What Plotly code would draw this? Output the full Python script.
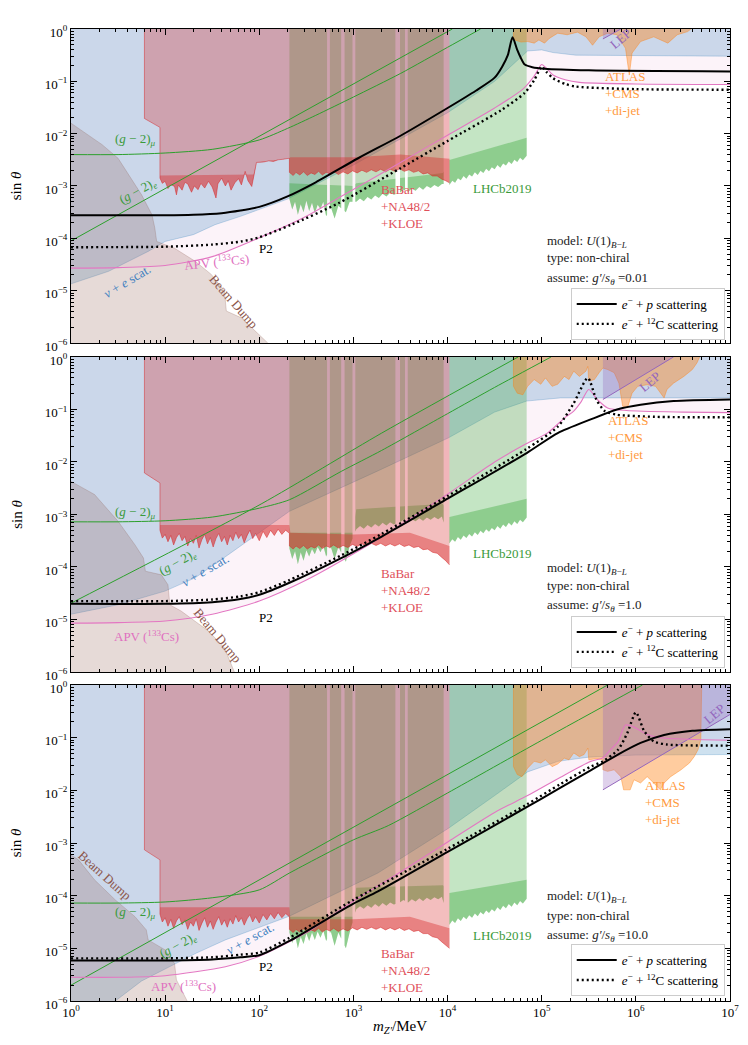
import numpy as np
import plotly.graph_objects as go

# ---------------- data --------------------------------------
# all values are log10(m_Z'/MeV) and log10(sin theta)
coupling_labels = ["0.01", "1.0", "10.0"]

# nu + e scattering bound (lower edge of excluded region)
nue_m_1 = [0, 0.4, 0.82, 1.0, 1.3, 1.53, 1.8, 2.0, 2.3, 3.0, 3.5, 4.0, 4.5, 4.85, 5.0, 5.12, 5.36, 7.0]
nue_s_1 = [-4.87, -4.63, -4.25, -4.06, -3.93, -3.74, -3.58, -3.45, -3.25, -2.6, -2.1, -1.6, -1.0, -0.42, -0.40, -0.45, -0.50, -0.52]
nue_m_2 = [0, 0.5, 0.998, 1.315, 1.668, 2.02, 2.32, 3.26, 4.01, 4.5, 4.84, 5.2, 7.0]
nue_s_2 = [-4.90, -4.72, -4.46, -4.21, -3.77, -3.32, -2.94, -2.17, -1.54, -1.05, -0.84, -0.78, -0.78]
nue_m_3 = [0, 0.47, 0.75, 1.05, 1.32, 1.64, 2.02, 2.32, 3.26, 4.01, 4.5, 4.85, 5.17, 5.5, 6.0, 7.0]
nue_s_3 = [-6.3, -6.0, -5.62, -5.35, -5.10, -4.84, -4.58, -4.39, -3.57, -2.72, -2.10, -1.65, -1.45, -1.37, -1.33, -1.32]

# APV (133Cs) bound
apv_m_1 = [0, 0.5, 1.0, 1.5, 2.0, 2.5, 2.84, 3.5, 4.0, 4.5, 4.8, 4.92, 5.0, 5.05, 5.12, 5.25, 5.4, 6.0, 7.0]
apv_s_1 = [-4.57, -4.56, -4.52, -4.35, -3.99, -3.58, -3.23, -2.55, -2.03, -1.51, -1.15, -0.9, -0.68, -0.75, -0.88, -0.97, -1.02, -1.05, -1.06]
apv_m_2 = [0, 0.5, 1.0, 1.5, 2.0, 2.5, 3.0, 3.5, 4.01, 4.5, 4.84, 5.06, 5.25, 5.34, 5.42, 5.50, 5.59, 5.70, 5.9, 6.5, 7.0]
apv_s_2 = [-5.07, -5.06, -5.03, -4.90, -4.65, -4.25, -3.75, -3.20, -2.60, -2.0, -1.65, -1.45, -1.15, -1.03, -0.85, -0.62, -0.81, -0.97, -1.02, -1.05, -1.06]
apv_m_3 = [0, 0.5, 1.0, 1.64, 2.0, 2.52, 3.0, 3.5, 4.01, 4.5, 4.85, 5.2, 5.52, 5.65, 5.73, 5.81, 5.89, 5.98, 6.12, 6.26, 7.0]
apv_s_3 = [-5.55, -5.55, -5.52, -5.35, -5.15, -4.68, -4.1, -3.55, -2.97, -2.42, -2.1, -1.75, -1.45, -1.38, -1.23, -1.08, -0.76, -0.80, -0.94, -1.0, -1.05]

# beam dump (upper edge of excluded region)
bd_m_1 = [0, 0.15, 0.33, 0.5, 0.64, 0.75, 0.86, 0.89, 0.91, 1.10, 1.32, 1.49, 1.63, 1.65, 1.81, 2.09]
bd_s_1 = [-1.80, -1.99, -2.21, -2.47, -2.85, -3.17, -3.55, -3.80, -4.06, -4.19, -4.44, -4.69, -5.01, -5.39, -5.52, -6.0]
bd_m_2 = [0, 0.25, 0.50, 0.68, 0.77, 0.79, 0.96, 1.03, 1.05, 1.17, 1.46, 1.63, 1.74]
bd_s_2 = [-2.37, -2.62, -3.13, -3.58, -3.83, -4.08, -4.15, -4.34, -4.72, -4.84, -5.22, -5.54, -6.02]
bd_m_3 = [0, 0.08, 0.25, 0.47, 0.68, 0.80, 0.82, 1.0, 1.10, 1.12, 1.24]
bd_s_3 = [-3.23, -3.32, -3.70, -4.08, -4.40, -4.65, -4.84, -5.03, -5.29, -5.60, -6.02]

# BaBar + NA48/2 + KLOE: left step, lower edge below 210 MeV (lo) and above (hi)
red_step_m = [0.78, 0.945]
red_step_s_1 = [-1.71, -1.88]
red_step_s_2 = [-2.21, -2.40]
red_step_s_3 = [-3.13, -3.32]
red_lo_m_1 = [0.945, 0.97, 1.0, 1.03, 1.06, 1.10, 1.12, 1.14, 1.18, 1.21, 1.24, 1.28, 1.31, 1.35, 1.38, 1.42, 1.46, 1.50, 1.54, 1.56,
              1.60, 1.64, 1.67, 1.70, 1.74, 1.78, 1.81, 1.85, 1.88, 1.92, 1.95, 1.97, 2.05, 2.1, 2.15, 2.2, 2.25, 2.32]
red_lo_s_1 = [-2.85, -2.95, -2.91, -3.05, -2.97, -3.01, -3.17, -2.98, -3.08, -2.93, -2.96, -3.12, -3.0, -3.07, -2.95, -3.04, -2.91, -3.02, -3.23, -2.96,
              -2.85, -3.0, -2.9, -3.08, -2.94, -2.86, -2.98, -2.72, -2.9, -3.01, -2.75, -2.55, -2.54, -2.52, -2.53, -2.50, -2.49, -2.47]
red_lo_m = [0.945, 0.97, 1.0, 1.03, 1.06, 1.09, 1.12, 1.15, 1.18, 1.21, 1.24, 1.27, 1.30, 1.33, 1.36, 1.39, 1.42, 1.45, 1.48, 1.51,
            1.54, 1.57, 1.60, 1.63, 1.66, 1.69, 1.72, 1.75, 1.78, 1.81, 1.84, 1.87, 1.90, 1.93, 1.96, 2.00, 2.04, 2.08, 2.12, 2.16,
            2.20, 2.24, 2.28, 2.32]
red_lo_s_2 = [-3.30, -3.45, -3.38, -3.52, -3.40, -3.58, -3.44, -3.36, -3.50, -3.42, -3.60, -3.46, -3.55, -3.40, -3.64, -3.48, -3.38, -3.56, -3.44, -3.62,
              -3.46, -3.36, -3.52, -3.42, -3.58, -3.40, -3.50, -3.34, -3.46, -3.38, -3.54, -3.40, -3.30, -3.46, -3.36, -3.50, -3.32, -3.44, -3.30, -3.40,
              -3.28, -3.38, -3.30, -3.36]
red_lo_s_3 = [-4.35, -4.50, -4.42, -4.58, -4.45, -4.62, -4.48, -4.40, -4.55, -4.46, -4.64, -4.50, -4.58, -4.44, -4.66, -4.52, -4.42, -4.60, -4.48, -4.64,
              -4.50, -4.40, -4.56, -4.46, -4.60, -4.44, -4.54, -4.38, -4.50, -4.42, -4.56, -4.44, -4.36, -4.50, -4.40, -4.52, -4.36, -4.46, -4.34, -4.44,
              -4.32, -4.42, -4.34, -4.40]
red_hi_m = [2.32, 2.36, 2.39, 2.43, 2.47, 2.51, 2.55, 2.59, 2.63, 2.67, 2.71, 2.75, 2.79, 2.84, 2.89, 2.94, 2.99, 3.04, 3.09, 3.14,
            3.19, 3.24, 3.29, 3.34, 3.39, 3.44, 3.49, 3.54, 3.59, 3.64, 3.69, 3.74, 3.79, 3.84, 3.89, 3.94, 3.98, 4.02]
red_hi_s_1 = [-2.74, -2.80, -2.74, -2.79, -2.73, -2.80, -2.75, -2.78, -2.72, -2.79, -2.74, -2.77, -2.72, -2.78, -2.73, -2.77, -2.71, -2.75, -2.70, -2.74,
              -2.69, -2.73, -2.68, -2.73, -2.68, -2.72, -2.67, -2.72, -2.69, -2.74, -2.71, -2.77, -2.75, -2.81, -2.81, -2.87, -2.90, -2.94]
red_hi_s_2 = [-3.60, -3.66, -3.60, -3.65, -3.59, -3.66, -3.61, -3.64, -3.58, -3.65, -3.60, -3.63, -3.58, -3.64, -3.59, -3.63, -3.57, -3.61, -3.56, -3.60,
              -3.55, -3.59, -3.55, -3.60, -3.56, -3.60, -3.56, -3.61, -3.58, -3.63, -3.61, -3.67, -3.66, -3.72, -3.74, -3.82, -3.88, -3.96]
red_hi_s_3 = [-4.64, -4.70, -4.64, -4.69, -4.63, -4.70, -4.65, -4.68, -4.62, -4.69, -4.64, -4.67, -4.62, -4.68, -4.63, -4.67, -4.61, -4.65, -4.60, -4.64,
              -4.60, -4.64, -4.60, -4.65, -4.61, -4.65, -4.61, -4.66, -4.63, -4.68, -4.66, -4.72, -4.72, -4.78, -4.80, -4.88, -4.94, -5.00]
# upper edge of the dense (fluctuating) red band
redband_m_1 = [0.945, 1.94, 1.97, 2.32, 2.33, 3.0, 3.5, 4.02]
redband_s_1 = [-2.80, -2.78, -2.55, -2.47, -2.45, -2.45, -2.40, -2.48]
redband_m_23 = [0.945, 2.32, 2.33, 3.0, 3.6, 4.02]
redband_s_2 = [-3.20, -3.20, -3.35, -3.38, -3.35, -3.60]
redband_s_3 = [-4.22, -4.22, -4.45, -4.45, -4.40, -4.62]

# LHCb2019 lower edge, and its resonance gaps
lhcb_range = [2.32, 4.84]
lhcb_gaps = [[2.72, 2.75], [2.87, 2.906], [2.99, 3.02], [3.446, 3.495], [3.548, 3.577], [3.958, 4.019]]
lhcb_m = [2.32, 2.35, 2.38, 2.41, 2.44, 2.47, 2.50, 2.53, 2.56, 2.59, 2.62, 2.65, 2.68, 2.71, 2.76, 2.80, 2.84, 2.92, 2.96,
          3.03, 3.07, 3.11, 3.15, 3.19, 3.23, 3.27, 3.31, 3.35, 3.39, 3.43, 3.50, 3.53, 3.58, 3.62, 3.66, 3.70, 3.74, 3.78, 3.82,
          3.86, 3.90, 3.94, 4.02, 4.05, 4.08, 4.11, 4.14, 4.17, 4.20, 4.23, 4.26, 4.29, 4.32, 4.35, 4.38, 4.41, 4.44, 4.47, 4.50,
          4.53, 4.56, 4.59, 4.62, 4.65, 4.68, 4.71, 4.74, 4.77, 4.80, 4.84]
lhcb_s_1 = [-3.25, -3.45, -3.30, -3.55, -3.35, -3.50, -3.28, -3.48, -3.32, -3.52, -3.36, -3.44, -3.30, -3.58, -3.40, -3.62, -3.38, -3.50, -3.30,
            -3.30, -3.24, -3.29, -3.21, -3.26, -3.18, -3.23, -3.15, -3.20, -3.13, -3.17, -3.12, -3.07, -3.12, -3.05, -3.09, -3.02, -3.07, -3.00, -3.04,
            -2.98, -3.02, -2.96, -2.98, -2.90, -2.94, -2.85, -2.89, -2.81, -2.86, -2.78, -2.82, -2.74, -2.79, -2.71, -2.75, -2.67, -2.72, -2.64, -2.68,
            -2.60, -2.65, -2.57, -2.61, -2.53, -2.58, -2.50, -2.54, -2.46, -2.51, -2.42]
lhcb_s_2 = [-3.65, -3.85, -3.70, -3.95, -3.72, -3.88, -3.68, -3.80, -3.66, -3.76, -3.62, -3.72, -3.60, -3.80, -3.62, -3.85, -3.62, -3.90, -3.60,
            -3.28, -3.22, -3.27, -3.20, -3.25, -3.18, -3.23, -3.16, -3.21, -3.15, -3.19, -3.14, -3.10, -3.15, -3.09, -3.13, -3.07, -3.12, -3.06, -3.10,
            -3.05, -3.09, -3.04, -3.55, -3.47, -3.52, -3.43, -3.48, -3.40, -3.45, -3.37, -3.42, -3.34, -3.39, -3.31, -3.36, -3.28, -3.33, -3.26, -3.30,
            -3.22, -3.27, -3.19, -3.24, -3.16, -3.21, -3.13, -3.18, -3.10, -3.15, -3.06]
lhcb_s_3 = [-4.70, -4.90, -4.75, -5.00, -4.78, -4.92, -4.72, -4.86, -4.70, -4.84, -4.68, -4.80, -4.66, -4.86, -4.68, -4.95, -4.70, -5.00, -4.70,
            -4.26, -4.20, -4.25, -4.18, -4.23, -4.16, -4.21, -4.14, -4.19, -4.13, -4.17, -4.12, -4.08, -4.13, -4.07, -4.11, -4.05, -4.10, -4.04, -4.08,
            -4.03, -4.07, -4.02, -4.55, -4.47, -4.52, -4.43, -4.48, -4.40, -4.45, -4.37, -4.42, -4.34, -4.39, -4.31, -4.36, -4.28, -4.33, -4.26, -4.30,
            -4.22, -4.27, -4.19, -4.24, -4.16, -4.21, -4.13, -4.18, -4.10, -4.15, -4.06]
lhcbband_m = [2.32, 3.0, 3.03, 3.95, 4.02, 4.84]
lhcbband_s_1 = [-2.95, -3.0, -2.95, -2.75, -2.50, -2.08]
lhcbband_s_2 = [-3.35, -3.35, -2.90, -2.80, -3.05, -2.70]
lhcbband_s_3 = [-4.40, -4.40, -3.85, -3.80, -3.95, -3.70]

# ATLAS + CMS + di-jet lower edge
atl_m_1 = [4.70, 4.70, 4.78, 4.85, 4.92, 4.97, 5.03, 5.08, 5.17, 5.27, 5.38, 5.47, 5.54, 5.61, 5.70, 5.80, 5.89, 5.93, 5.96, 6.05, 6.19, 6.34, 6.44, 6.55, 6.62]
atl_s_1 = [0.05, -0.20, -0.25, -0.24, -0.27, -0.21, -0.27, -0.18, -0.08, -0.11, -0.06, -0.15, -0.31, -0.15, -0.08, -0.11, -0.37, -0.88, -0.46, -0.24, -0.15, -0.27, -0.11, -0.05, 0.05]
atl_m_2 = [4.70, 4.70, 4.74, 4.80, 4.85, 4.92, 4.99, 5.04, 5.11, 5.17, 5.24, 5.29, 5.34, 5.40, 5.47, 5.49, 5.50, 5.56, 5.61, 5.65,
           5.70, 5.77, 5.82, 5.86, 5.91, 5.96, 6.02, 6.12, 6.21, 6.26, 6.30, 6.33, 6.40, 6.51, 6.60, 6.65, 6.69]
atl_s_2 = [0.05, -0.56, -0.69, -0.72, -0.56, -0.43, -0.52, -0.40, -0.56, -0.52, -0.37, -0.43, -0.27, -0.37, -0.27, -0.18, -0.46, -0.43, -0.30, -0.21,
           -0.24, -0.30, -0.50, -0.94, -0.97, -0.69, -0.56, -0.53, -0.56, -0.69, -0.78, -0.62, -0.50, -0.37, -0.24, -0.11, 0.05]
atl_m_3 = [4.70, 4.70, 4.74, 4.79, 4.85, 4.92, 4.99, 5.04, 5.11, 5.17, 5.24, 5.29, 5.34, 5.40, 5.45, 5.49, 5.50, 5.58, 5.65, 5.65,
           5.70, 5.77, 5.84, 5.87, 5.94, 5.98, 6.05, 6.12, 6.19, 6.26, 6.30, 6.37, 6.48, 6.57, 6.62, 6.66, 6.69, 6.70]
atl_s_3 = [0.05, -1.55, -1.70, -1.74, -1.58, -1.45, -1.48, -1.42, -1.55, -1.50, -1.39, -1.42, -1.29, -1.36, -1.32, -1.20, -1.42, -1.40, -1.42, -1.61,
           -1.64, -1.61, -1.74, -1.99, -1.99, -1.80, -1.86, -1.74, -1.86, -1.99, -1.86, -1.74, -1.61, -1.48, -1.36, -1.23, -1.04, 0.05]

# LEP bound (straight edge)
lep_m_1 = [5.65, 5.84]
lep_s_1 = [-0.19, 0.0]
lep_m_2 = [5.65, 6.40]
lep_s_2 = [-0.81, 0.0]
lep_m_3 = [5.65, 7.0]
lep_s_3 = [-1.99, -0.56]

# (g-2)_mu and (g-2)_e
g2mu_m_1 = [0, 0.5, 1.0, 1.5, 2.0, 2.3, 2.6, 3.0, 3.5, 4.0, 4.35]
g2mu_s_1 = [-2.40, -2.40, -2.37, -2.30, -2.12, -1.90, -1.65, -1.30, -0.85, -0.35, 0.0]
g2mu_m_2 = [0, 0.5, 1.0, 1.5, 2.0, 2.32, 2.87, 3.3, 4.0, 4.5, 5.1]
g2mu_s_2 = [-3.14, -3.14, -3.12, -3.05, -2.88, -2.72, -2.18, -1.78, -1.08, -0.58, 0.0]
g2mu_m_3 = [0, 0.5, 1.0, 1.5, 2.0, 2.32, 3.0, 3.37, 4.0, 5.0, 6.07]
g2mu_s_3 = [-4.14, -4.14, -4.12, -4.04, -3.89, -3.57, -2.94, -2.67, -2.05, -1.05, 0.0]
g2e_m_1 = [0, 4.05]
g2e_s_1 = [-4.05, 0.0]
g2e_m_2 = [0, 2.02, 3.3, 4.75]
g2e_s_2 = [-4.69, -2.80, -1.45, 0.0]
g2e_m_3 = [0, 5.70]
g2e_s_3 = [-5.70, 0.0]

# P2 sensitivity: e- + p (solid) and e- + 12C (dotted)
ep_m_1 = [0, 1.0, 1.3, 1.6, 1.8, 2.0, 2.3, 2.6, 3.05, 3.5, 4.0, 4.3, 4.5, 4.58, 4.64, 4.69, 4.74, 4.78, 4.82, 4.9, 5.03, 5.5, 7.0]
ep_s_1 = [-3.56, -3.56, -3.55, -3.52, -3.47, -3.40, -3.20, -2.93, -2.47, -2.04, -1.51, -1.18, -0.93, -0.72, -0.50, -0.16, -0.40, -0.56, -0.68, -0.73, -0.76, -0.79, -0.81]
ep_m_2 = [0, 1.0, 1.5, 1.8, 2.0, 2.32, 2.87, 3.3, 4.01, 4.84, 5.17, 5.52, 5.80, 6.05, 6.40, 7.0]
ep_s_2 = [-4.70, -4.70, -4.67, -4.61, -4.53, -4.30, -3.83, -3.42, -2.69, -1.83, -1.45, -1.19, -1.0, -0.91, -0.84, -0.81]
ep_m_3 = [0, 1.0, 1.5, 1.8, 2.0, 2.32, 3.0, 3.26, 4.01, 4.84, 5.2, 5.52, 5.8, 6.05, 6.3, 6.6, 7.0]
ep_s_3 = [-5.23, -5.23, -5.21, -5.17, -5.13, -4.86, -4.15, -3.92, -3.16, -2.32, -1.95, -1.62, -1.33, -1.10, -0.95, -0.87, -0.84]
ec_m_1 = [0, 1.0, 1.5, 1.81, 2.0, 2.34, 2.84, 3.5, 4.0, 4.57, 4.82, 4.92, 5.0, 5.05, 5.12, 5.25, 5.36, 6.0, 7.0]
ec_s_1 = [-4.17, -4.16, -4.12, -4.06, -3.98, -3.74, -3.33, -2.66, -2.14, -1.55, -1.22, -0.98, -0.72, -0.82, -0.94, -1.05, -1.10, -1.15, -1.16]
ec_m_2 = [0, 1.0, 1.5, 1.8, 2.0, 2.32, 2.87, 3.3, 4.01, 4.84, 5.17, 5.34, 5.49, 5.58, 5.67, 5.80, 6.2, 7.0]
ec_s_2 = [-4.65, -4.65, -4.62, -4.56, -4.48, -4.25, -3.78, -3.37, -2.64, -1.75, -1.33, -0.88, -0.40, -0.81, -1.03, -1.10, -1.14, -1.15]
ec_m_3 = [0, 1.0, 1.5, 1.8, 2.0, 2.32, 3.0, 4.01, 4.84, 5.2, 5.52, 5.65, 5.81, 5.91, 6.0, 6.09, 6.19, 6.33, 7.0]
ec_s_3 = [-5.19, -5.19, -5.17, -5.12, -5.08, -4.80, -4.08, -3.10, -2.27, -1.88, -1.55, -1.45, -1.23, -0.91, -0.52, -0.88, -1.07, -1.13, -1.15]

# ---------------- styles -----------------
FONT = "Liberation Serif"
C_BLUE = "rgba(31,119,180,0.22)"
C_PINK = "rgba(227,119,194,0.09)"
C_BROWN = "rgba(140,86,75,0.22)"
C_GREEN = "rgba(44,160,44,0.28)"
C_RED = "rgba(214,39,40,0.30)"
C_ORANGE = "rgba(255,127,14,0.40)"
C_PURPLE = "rgba(148,103,189,0.30)"
C_REDBAND = "rgba(214,39,40,0.40)"
C_GREENBAND = "rgba(44,160,44,0.35)"
TOP = 0.03
BOT = -6.03


def P(v):
    return 10 ** np.asarray(v, dtype=float)


fig = go.Figure()


def poly(xa, ya, fill, k, line=None):
    fig.add_trace(go.Scatter(x=P(xa), y=P(ya), mode="lines", fill="toself", fillcolor=fill,
                             line=dict(width=0.8 if line else 0, color=line or "rgba(0,0,0,0)"),
                             hoverinfo="skip", showlegend=False, xaxis="x%d" % k, yaxis="y%d" % k))


def curve(xa, ya, color, width, k, dash=None, name=None, legend=None, smooth=True):
    ln = dict(color=color, width=width, dash=dash)
    if smooth:
        ln.update(shape="spline", smoothing=0.7)
    fig.add_trace(go.Scatter(x=P(xa), y=P(ya), mode="lines", line=ln,
                             hoverinfo="skip", name=name, showlegend=name is not None,
                             legend=legend, xaxis="x%d" % k, yaxis="y%d" % k))


def segments(lo, hi, gaps):
    out, start = [], lo
    for a, b in gaps:
        out.append((start, a))
        start = b
    out.append((start, hi))
    return out


panels = [
    dict(nue=(nue_m_1, nue_s_1), apv=(apv_m_1, apv_s_1), bd=(bd_m_1, bd_s_1), step=red_step_s_1,
         red=(red_lo_m_1 + red_hi_m, red_lo_s_1 + red_hi_s_1), redband=(redband_m_1, redband_s_1),
         lhcb=lhcb_s_1, lhcbband=lhcbband_s_1,
         atl=(atl_m_1, atl_s_1), lep=(lep_m_1, lep_s_1), g2mu=(g2mu_m_1, g2mu_s_1), g2e=(g2e_m_1, g2e_s_1),
         ep=(ep_m_1, ep_s_1), ec=(ec_m_1, ec_s_1)),
    dict(nue=(nue_m_2, nue_s_2), apv=(apv_m_2, apv_s_2), bd=(bd_m_2, bd_s_2), step=red_step_s_2,
         red=(red_lo_m + red_hi_m, red_lo_s_2 + red_hi_s_2), redband=(redband_m_23, redband_s_2),
         lhcb=lhcb_s_2, lhcbband=lhcbband_s_2,
         atl=(atl_m_2, atl_s_2), lep=(lep_m_2, lep_s_2), g2mu=(g2mu_m_2, g2mu_s_2), g2e=(g2e_m_2, g2e_s_2),
         ep=(ep_m_2, ep_s_2), ec=(ec_m_2, ec_s_2)),
    dict(nue=(nue_m_3, nue_s_3), apv=(apv_m_3, apv_s_3), bd=(bd_m_3, bd_s_3), step=red_step_s_3,
         red=(red_lo_m + red_hi_m, red_lo_s_3 + red_hi_s_3), redband=(redband_m_23, redband_s_3),
         lhcb=lhcb_s_3, lhcbband=lhcbband_s_3,
         atl=(atl_m_3, atl_s_3), lep=(lep_m_3, lep_s_3), g2mu=(g2mu_m_3, g2mu_s_3), g2e=(g2e_m_3, g2e_s_3),
         ep=(ep_m_3, ep_s_3), ec=(ec_m_3, ec_s_3)),
]

legend_names = ["legend", "legend2", "legend3"]

for i, d in enumerate(panels):
    k = i + 1
    # APV region (under everything)
    m, s = d["apv"]
    poly(list(m) + [7.05, -0.05], list(s) + [TOP, TOP], C_PINK, k)
    # nu + e scattering
    m, s = d["nue"]
    poly(list(m) + [7.05, -0.05, -0.05], list(s) + [TOP, TOP, s[0]], C_BLUE, k, "rgba(31,119,180,0.30)")
    # beam dump
    m, s = d["bd"]
    poly(list(m) + [m[-1], -0.05, -0.05], list(s) + [BOT, BOT, s[0]], C_BROWN, k, "rgba(140,86,75,0.30)")
    # LHCb (segments between resonance gaps)
    lm = np.array(lhcb_m)
    ls = np.array(d["lhcb"])
    bm = np.array(lhcbband_m)
    bs = np.array(d["lhcbband"])
    for a, b in segments(lhcb_range[0], lhcb_range[1], lhcb_gaps):
        inside = (lm > a) & (lm < b)
        xm = [a] + list(lm[inside]) + [b]
        xs = [float(np.interp(a, lm, ls))] + list(ls[inside]) + [float(np.interp(b, lm, ls))]
        poly(xm + [b, a], xs + [TOP, TOP], C_GREEN, k)
        tin = (bm > a) & (bm < b)
        tm = [a] + list(bm[tin]) + [b]
        ts = [float(np.interp(x, bm, bs)) for x in tm]
        poly(xm + tm[::-1], xs + ts[::-1], C_GREENBAND, k)
    # BaBar + NA48/2 + KLOE
    m, s = d["red"]
    rx = [red_step_m[0], red_step_m[0], red_step_m[1]] + list(m) + [m[-1]]
    ry = [TOP, d["step"][0], d["step"][1]] + list(s) + [TOP]
    poly(rx, ry, C_RED, k)
    bm2, bs2 = d["redband"]
    poly(list(m) + list(bm2)[::-1], list(s) + list(bs2)[::-1], C_REDBAND, k)
    curve(rx[:-1], ry[:-1], "rgba(214,39,40,0.7)", 0.7, k, smooth=False)
    # ATLAS + CMS + di-jet
    m, s = d["atl"]
    poly(m, s, C_ORANGE, k, "rgba(255,127,14,0.5)")
    # LEP
    m, s = d["lep"]
    poly([m[0], m[0], m[1], 7.05, 7.05], [TOP, s[0], s[1], s[1] + 0.05, TOP], C_PURPLE, k)
    curve(m, s, "#9467bd", 1.0, k, smooth=False)
    # (g-2) lines, APV line
    m, s = d["g2mu"]
    curve(m, s, "#2ca02c", 1.0, k)
    m, s = d["g2e"]
    curve(m, s, "#2ca02c", 1.0, k)
    m, s = d["apv"]
    curve(m, s, "#e377c2", 1.1, k)
    # P2 sensitivity
    m, s = d["ep"]
    curve(m, s, "black", 2.0, k, name="<i>e</i><sup>−</sup> + <i>p</i> scattering", legend=legend_names[i])
    m, s = d["ec"]
    curve(m, s, "black", 2.4, k, dash="2px,3px",
          name="<i>e</i><sup>−</sup> + <sup>12</sup>C scattering", legend=legend_names[i])

# ---------------- axes -----------------
domains = [[0.677, 1.0], [0.3385, 0.6626], [0.0, 0.3251]]
xmaj = [10.0 ** e for e in range(0, 8)]
xmin = [d * 10.0 ** e for e in range(0, 7) for d in range(2, 10)]
ymaj = [10.0 ** e for e in range(-6, 1)]
ymin = [d * 10.0 ** e for e in range(-6, 0) for d in range(2, 10)]


def lab(e):
    return "10<sup>%s</sup>" % (str(e).replace("-", "−"))


layout = dict(width=748, height=1045, margin=dict(l=63, r=26, t=21, b=52, autoexpand=False),
              paper_bgcolor="white", plot_bgcolor="white",
              font=dict(family=FONT, size=13, color="black"))
for i in range(3):
    k = i + 1
    xa = dict(type="log", range=[0, 7], domain=[0, 1], anchor="y%d" % k, automargin=False,
              showline=True, linecolor="black", linewidth=1, mirror="allticks",
              ticks="inside", ticklen=6, tickwidth=1, tickcolor="black",
              tickmode="array", tickvals=xmaj, ticktext=[lab(e) for e in range(0, 8)],
              minor=dict(ticks="inside", ticklen=3, tickwidth=0.8, tickcolor="black",
                         tickmode="array", tickvals=xmin, showgrid=False),
              showgrid=False, zeroline=False, showticklabels=(k == 3),
              ticklabelstandoff=-1,
              tickfont=dict(family=FONT, size=13))
    ya = dict(type="log", range=[-6, 0], domain=domains[i], anchor="x%d" % k, automargin=False,
              showline=True, linecolor="black", linewidth=1, mirror="allticks",
              ticks="inside", ticklen=6, tickwidth=1, tickcolor="black",
              tickmode="array", tickvals=ymaj, ticktext=[lab(e) for e in range(-6, 1)],
              minor=dict(ticks="inside", ticklen=3, tickwidth=0.8, tickcolor="black",
                         tickmode="array", tickvals=ymin, showgrid=False),
              showgrid=False, zeroline=False, ticklabelshift=3,
              tickfont=dict(family=FONT, size=13))
    layout["xaxis%d" % k if k > 1 else "xaxis"] = xa
    layout["yaxis%d" % k if k > 1 else "yaxis"] = ya

legend_y = [0.680, 0.3426, 0.005]
for i, name in enumerate(legend_names):
    layout[name] = dict(x=0.992, xanchor="right", y=legend_y[i], yanchor="bottom",
                        bgcolor="rgba(255,255,255,0.9)", bordercolor="#cccccc", borderwidth=1,
                        font=dict(family=FONT, size=13), tracegroupgap=2, itemwidth=40)

fig.update_layout(**layout)

# axis titles
for yc in [0.8385, 0.5005, 0.1626]:
    fig.add_annotation(x=-0.083, y=yc, xref="paper", yref="paper", text="sin <i>θ</i>", showarrow=False,
                       textangle=-90, xanchor="center", yanchor="middle",
                       font=dict(family=FONT, size=15, color="black"))
fig.add_annotation(x=0.499, y=-0.027, xref="paper", yref="paper", text="<i>m</i><sub><i>Z′</i></sub>/MeV",
                   showarrow=False, xanchor="center", yanchor="middle",
                   font=dict(family=FONT, size=15, color="black"))

# ---------------- labels -----------------
GREEN_T = "#3a9a3a"
labels = [
    # panel 1
    [("(<i>g</i> − 2)<sub><i>μ</i></sub>", 0.69, -2.12, GREEN_T, 0, "center"),
     ("(<i>g</i> − 2)<sub><i>e</i></sub>", 0.71, -3.10, GREEN_T, -29, "center"),
     ("<i>ν</i> + <i>e</i> scat.", 0.59, -4.82, "#3f7fc0", -31, "center"),
     ("APV (<sup>133</sup>Cs)", 1.55, -4.43, "#e070c0", -6, "center"),
     ("Beam Dump", 1.73, -5.2, "#8c564b", 49, "center"),
     ("P2", 2.07, -4.19, "black", 0, "center"),
     ("BaBar<br>+NA48/2<br>+KLOE", 3.27, -3.40, "#e0505a", 0, "left"),
     ("LHCb2019", 4.58, -3.04, GREEN_T, 0, "center"),
     ("ATLAS<br>+CMS<br>+di-jet", 5.65, -1.23, "#ff9a40", 0, "left"),
     ("LEP", 5.84, -0.18, "#9467bd", -40, "center")],
    # panel 2
    [("(<i>g</i> − 2)<sub><i>μ</i></sub>", 0.69, -2.97, GREEN_T, 0, "center"),
     ("(<i>g</i> − 2)<sub><i>e</i></sub>", 1.14, -3.92, GREEN_T, -29, "center"),
     ("<i>ν</i> + <i>e</i> scat.", 1.42, -4.06, "#3f7fc0", -30, "center"),
     ("APV (<sup>133</sup>Cs)", 0.80, -5.31, "#e070c0", 0, "center"),
     ("Beam Dump", 1.56, -5.30, "#8c564b", 50, "center"),
     ("P2", 2.07, -4.97, "black", 0, "center"),
     ("BaBar<br>+NA48/2<br>+KLOE", 3.27, -4.44, "#e0505a", 0, "left"),
     ("LHCb2019", 4.58, -3.75, GREEN_T, 0, "center"),
     ("ATLAS<br>+CMS<br>+di-jet", 5.68, -1.54, "#ff9a40", 0, "left"),
     ("LEP", 6.15, -0.46, "#9467bd", -40, "center")],
    # panel 3
    [("(<i>g</i> − 2)<sub><i>μ</i></sub>", 0.69, -4.32, GREEN_T, 0, "center"),
     ("(<i>g</i> − 2)<sub><i>e</i></sub>", 1.14, -4.94, GREEN_T, -29, "center"),
     ("<i>ν</i> + <i>e</i> scat.", 1.90, -4.81, "#3f7fc0", -29, "center"),
     ("APV (<sup>133</sup>Cs)", 1.20, -5.72, "#e070c0", 0, "center"),
     ("Beam Dump", 0.36, -3.61, "#8c564b", 42, "center"),
     ("P2", 2.07, -5.34, "black", 0, "center"),
     ("BaBar<br>+NA48/2<br>+KLOE", 3.27, -5.42, "#e0505a", 0, "left"),
     ("LHCb2019", 4.58, -4.75, GREEN_T, 0, "center"),
     ("ATLAS<br>+CMS<br>+di-jet", 6.08, -2.24, "#ff9a40", 0, "left"),
     ("LEP", 6.84, -0.55, "#9467bd", -40, "center")],
]
model_y = [[-4.06, -4.36, -4.76], [-4.02, -4.36, -4.74], [-4.01, -4.37, -4.75]]

for i in range(3):
    k = i + 1
    xr, yr = ("x", "y") if k == 1 else ("x%d" % k, "y%d" % k)
    for text, x, y, col, ang, al in labels[i]:
        fig.add_annotation(x=x, y=y, xref=xr, yref=yr, text=text, showarrow=False,
                           font=dict(family=FONT, size=13, color=col), textangle=ang,
                           xanchor="left" if al == "left" else "center", align=al)
    lines = ["model: <i>U</i>(1)<sub><i>B</i>−<i>L</i></sub>", "type: non-chiral",
             "assume: <i>g′</i>/<i>s</i><sub><i>θ</i></sub> =" + coupling_labels[i]]
    for t, y in zip(lines, model_y[i]):
        fig.add_annotation(x=5.03, y=y, xref=xr, yref=yr, text=t, showarrow=False,
                           font=dict(family=FONT, size=13, color="#222222"), xanchor="left")

fig.write_html("out.html")
